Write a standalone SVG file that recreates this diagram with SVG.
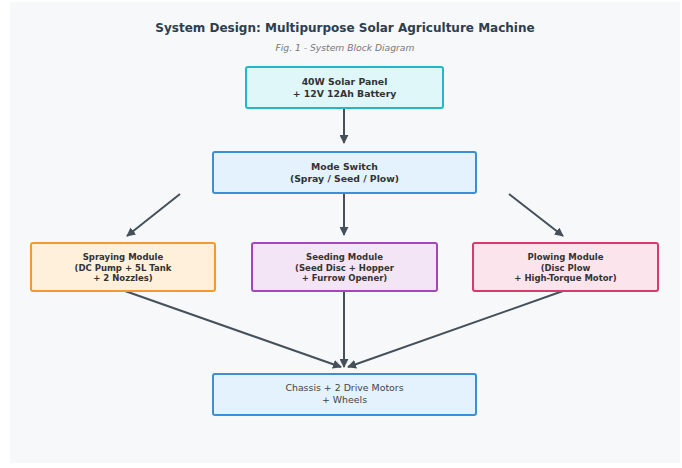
<svg xmlns="http://www.w3.org/2000/svg" width="682" height="468" viewBox="0 0 682 468">
<style>
text{font-family:"DejaVu Sans","Liberation Sans",sans-serif;text-anchor:middle;fill:#333}
.t{font-size:12px;font-weight:bold;fill:#2c3e50}
.s{font-size:9.2px;font-style:italic;fill:#777}
.b{font-size:9.3px;font-weight:bold}
.m{font-size:8.5px;font-weight:bold}
.n{font-size:9.4px;fill:#444}
.box{stroke-width:2}
.c{stroke:#45505a;stroke-width:2;fill:none;marker-end:url(#ah)}
</style>
<defs>
<marker id="ah" viewBox="0 0 10 10" refX="9" refY="5" markerWidth="4.5" markerHeight="4.5" orient="auto">
<path d="M0,0 L10,5 L0,10 z" fill="#45505a"/>
</marker>
</defs>
<rect width="682" height="468" fill="#ffffff"/>
<rect x="10" y="2" width="670" height="461" fill="#f7f8f9"/>
<text class="t" x="345" y="32">System Design: Multipurpose Solar Agriculture Machine</text>
<text class="s" x="345" y="51">Fig. 1 - System Block Diagram</text>
<g id="connectors">
<line class="c" x1="344" y1="109" x2="344" y2="143"/>
<line class="c" x1="344" y1="194" x2="344" y2="235"/>
<line class="c" x1="180" y1="194" x2="127" y2="236"/>
<line class="c" x1="509" y1="194" x2="563" y2="236"/>
<line class="c" x1="125" y1="291" x2="341" y2="367"/>
<line class="c" x1="344" y1="292" x2="344" y2="367"/>
<line class="c" x1="563" y1="291" x2="348" y2="367"/>
</g>
<g id="solar">
<rect class="box" x="246" y="67" width="197" height="41" rx="2" fill="#e0f7fa" stroke="#26b6c4"/>
<text class="b" x="344.5" y="85">40W Solar Panel</text>
<text class="b" x="344.5" y="97">+ 12V 12Ah Battery</text>
</g>
<g id="mode">
<rect class="box" x="213" y="152" width="263" height="41" rx="2" fill="#e3f2fd" stroke="#3b8ed8"/>
<text class="b" x="344.5" y="170">Mode Switch</text>
<text class="b" x="344.5" y="182">(Spray / Seed / Plow)</text>
</g>
<g id="spraying">
<rect class="box" x="31" y="243" width="184" height="48" rx="2" fill="#fff0dc" stroke="#f29a2e"/>
<text class="m" x="123" y="260">Spraying Module</text>
<text class="m" x="123" y="271">(DC Pump + 5L Tank</text>
<text class="m" x="123" y="281">+ 2 Nozzles)</text>
</g>
<g id="seeding">
<rect class="box" x="252" y="243" width="185" height="48" rx="2" fill="#f3e5f5" stroke="#a348b8"/>
<text class="m" x="344.5" y="260">Seeding Module</text>
<text class="m" x="344.5" y="271">(Seed Disc + Hopper</text>
<text class="m" x="344.5" y="281">+ Furrow Opener)</text>
</g>
<g id="plowing">
<rect class="box" x="473" y="243" width="185" height="48" rx="2" fill="#fce4ec" stroke="#d83a6e"/>
<text class="m" x="565.5" y="260">Plowing Module</text>
<text class="m" x="565.5" y="271">(Disc Plow</text>
<text class="m" x="565.5" y="281">+ High-Torque Motor)</text>
</g>
<g id="chassis">
<rect class="box" x="213" y="374" width="263" height="41" rx="2" fill="#e3f2fd" stroke="#3b8ed8"/>
<text class="n" x="344.5" y="391">Chassis + 2 Drive Motors</text>
<text class="n" x="344.5" y="403">+ Wheels</text>
</g>
</svg>
